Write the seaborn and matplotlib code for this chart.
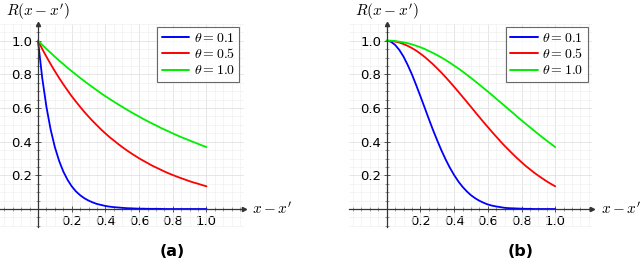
import pandas as pd
import matplotlib
matplotlib.use('Agg')
import matplotlib.pyplot as plt
from matplotlib.ticker import MultipleLocator
import seaborn as sns

## data (step 0.025 on x - x')
dist = [round(0.025 * k, 3) for k in range(41)]

# (a) exponential-looking curves
exp_01 = [1.00, 0.779, 0.607, 0.472, 0.368, 0.287, 0.223, 0.174, 0.135, 0.105, 0.082,
          0.064, 0.05, 0.039, 0.03, 0.024, 0.018, 0.014, 0.011, 0.009, 0.007, 0.005,
          0.004, 0.003, 0.002, 0.002, 0.001, 0.001, 0.001, 0.001, 0.0, 0.0, 0.0, 0.0,
          0.0, 0.0, 0.0, 0.0, 0.0, 0.0, 0.0]
exp_05 = [1.00, 0.951, 0.905, 0.861, 0.819, 0.779, 0.741, 0.705, 0.670, 0.638, 0.607,
          0.577, 0.549, 0.522, 0.497, 0.472, 0.449, 0.427, 0.407, 0.387, 0.368, 0.350,
          0.333, 0.317, 0.301, 0.287, 0.273, 0.259, 0.247, 0.235, 0.223, 0.212, 0.202,
          0.192, 0.183, 0.174, 0.165, 0.157, 0.150, 0.142, 0.135]
exp_10 = [1.00, 0.975, 0.951, 0.928, 0.905, 0.882, 0.861, 0.839, 0.819, 0.799, 0.779,
          0.760, 0.741, 0.723, 0.705, 0.687, 0.670, 0.654, 0.638, 0.622, 0.607, 0.592,
          0.577, 0.563, 0.549, 0.535, 0.522, 0.509, 0.497, 0.484, 0.472, 0.461, 0.449,
          0.438, 0.427, 0.417, 0.407, 0.397, 0.387, 0.377, 0.368]

# (b) bell-shaped curves
gau_01 = [1.00, 0.994, 0.975, 0.945, 0.905, 0.855, 0.799, 0.736, 0.670, 0.603, 0.535,
          0.469, 0.407, 0.348, 0.294, 0.245, 0.202, 0.164, 0.132, 0.105, 0.082, 0.064,
          0.049, 0.037, 0.027, 0.020, 0.015, 0.011, 0.007, 0.005, 0.004, 0.003, 0.002,
          0.001, 0.001, 0.0, 0.0, 0.0, 0.0, 0.0, 0.0]
gau_05 = [1.00, 0.999, 0.995, 0.989, 0.980, 0.969, 0.956, 0.941, 0.923, 0.904, 0.882,
          0.860, 0.835, 0.810, 0.783, 0.755, 0.726, 0.697, 0.667, 0.637, 0.607, 0.576,
          0.546, 0.516, 0.487, 0.458, 0.430, 0.402, 0.375, 0.350, 0.325, 0.301, 0.278,
          0.256, 0.236, 0.216, 0.198, 0.181, 0.164, 0.149, 0.135]
gau_10 = [1.00, 1.00, 0.998, 0.994, 0.990, 0.985, 0.978, 0.970, 0.961, 0.951, 0.939,
          0.927, 0.914, 0.900, 0.885, 0.869, 0.852, 0.835, 0.817, 0.798, 0.779, 0.759,
          0.739, 0.718, 0.698, 0.677, 0.655, 0.634, 0.613, 0.591, 0.570, 0.548, 0.527,
          0.506, 0.486, 0.465, 0.445, 0.425, 0.406, 0.387, 0.368]

thetas = [r'$\theta = 0.1$', r'$\theta = 0.5$', r'$\theta = 1.0$']
colors = ['#0000ff', '#ff0000', '#00ee00']
ticks = [0.2, 0.4, 0.6, 0.8, 1.0]
tick_labels = ['0.2', '0.4', '0.6', '0.8', '1.0']


def to_long(series):
    parts = []
    for name, vals in zip(thetas, series):
        parts.append(pd.DataFrame({'d': dist, 'R': vals, 'theta': name}))
    return pd.concat(parts, ignore_index=True)


df_a = to_long([exp_01, exp_05, exp_10])
df_b = to_long([gau_01, gau_05, gau_10])

sns.set_theme(style='white')
plt.rcParams['font.family'] = ['DejaVu Sans']
plt.rcParams['mathtext.fontset'] = 'cm'
plt.rcParams['text.color'] = 'black'
plt.rcParams['xtick.color'] = 'black'
plt.rcParams['ytick.color'] = 'black'

fig = plt.figure(figsize=(6.4, 2.64), dpi=100)

W, H = 640, 264
xlo, xhi = -0.225, 1.22
ylo, yhi = -0.107, 1.10
sx, sy = 168.5, 168.3


def panel(origin_px, df, tag):
    left = origin_px + xlo * sx
    bottom = (H - 209) + ylo * sy
    ax = fig.add_axes([left / W, bottom / H, (xhi - xlo) * sx / W, (yhi - ylo) * sy / H])
    sns.lineplot(data=df, x='d', y='R', hue='theta', palette=colors, lw=1.3,
                 ax=ax, legend=False, clip_on=False)
    ax.set_xlim(xlo, xhi)
    ax.set_ylim(ylo, yhi)

    # axes through the origin
    for s in ['top', 'right']:
        ax.spines[s].set_visible(False)
    ax.spines['left'].set_position(('data', 0))
    ax.spines['bottom'].set_position(('data', 0))
    for s in ['left', 'bottom']:
        ax.spines[s].set_color('#333333')
        ax.spines[s].set_linewidth(0.9)
    ax.plot([xhi], [0], marker='>', ms=3, color='#333333', clip_on=False)
    ax.plot([0], [yhi], marker='^', ms=3, color='#333333', clip_on=False)

    ax.set_xticks(ticks)
    ax.set_xticklabels(tick_labels)
    ax.set_yticks(ticks)
    ax.set_yticklabels(tick_labels)
    ax.tick_params(which='major', direction='inout', length=4, width=0.7,
                   color='#555555', labelcolor='black', labelsize=9.5, pad=2,
                   bottom=True, left=True)
    ax.tick_params(which='minor', direction='inout', length=2.5, width=0.5,
                   color='#777777', bottom=True, left=True)
    ax.set_xlabel('')
    ax.set_ylabel('')

    ax.grid(True, which='major', color='#e2e2e2', lw=0.6)
    ax.xaxis.set_minor_locator(MultipleLocator(0.05))
    ax.yaxis.set_minor_locator(MultipleLocator(0.05))
    ax.grid(True, which='minor', color='#f0f0f0', lw=0.5)
    ax.set_axisbelow(True)

    ax.text(1.27, 0, r"$x - x^{\prime}$", fontsize=11, ha='left', va='center')
    ax.text(0, 1.17, r"$R(x - x^{\prime})$", fontsize=11, ha='center', va='center',
            clip_on=False)

    handles = [plt.Line2D([], [], color=c, lw=1.4) for c in colors]
    leg = ax.legend(handles, thetas, loc='upper right', bbox_to_anchor=(1.193, 1.081),
                    bbox_transform=ax.transData, fontsize=10, frameon=True,
                    fancybox=False, handlelength=2.0, handletextpad=0.3,
                    borderpad=0.3, labelspacing=0.15, borderaxespad=0)
    leg.get_frame().set_edgecolor('#444444')
    leg.get_frame().set_linewidth(0.8)

    fig.text((origin_px + 0.795 * sx) / W, 1 - 251 / H, tag, fontsize=11.5,
             fontweight='bold', color='black', ha='center', va='center')
    return ax


panel(38, df_a, '(a)')
panel(386.7, df_b, '(b)')

fig.savefig('out.png', dpi=100)
